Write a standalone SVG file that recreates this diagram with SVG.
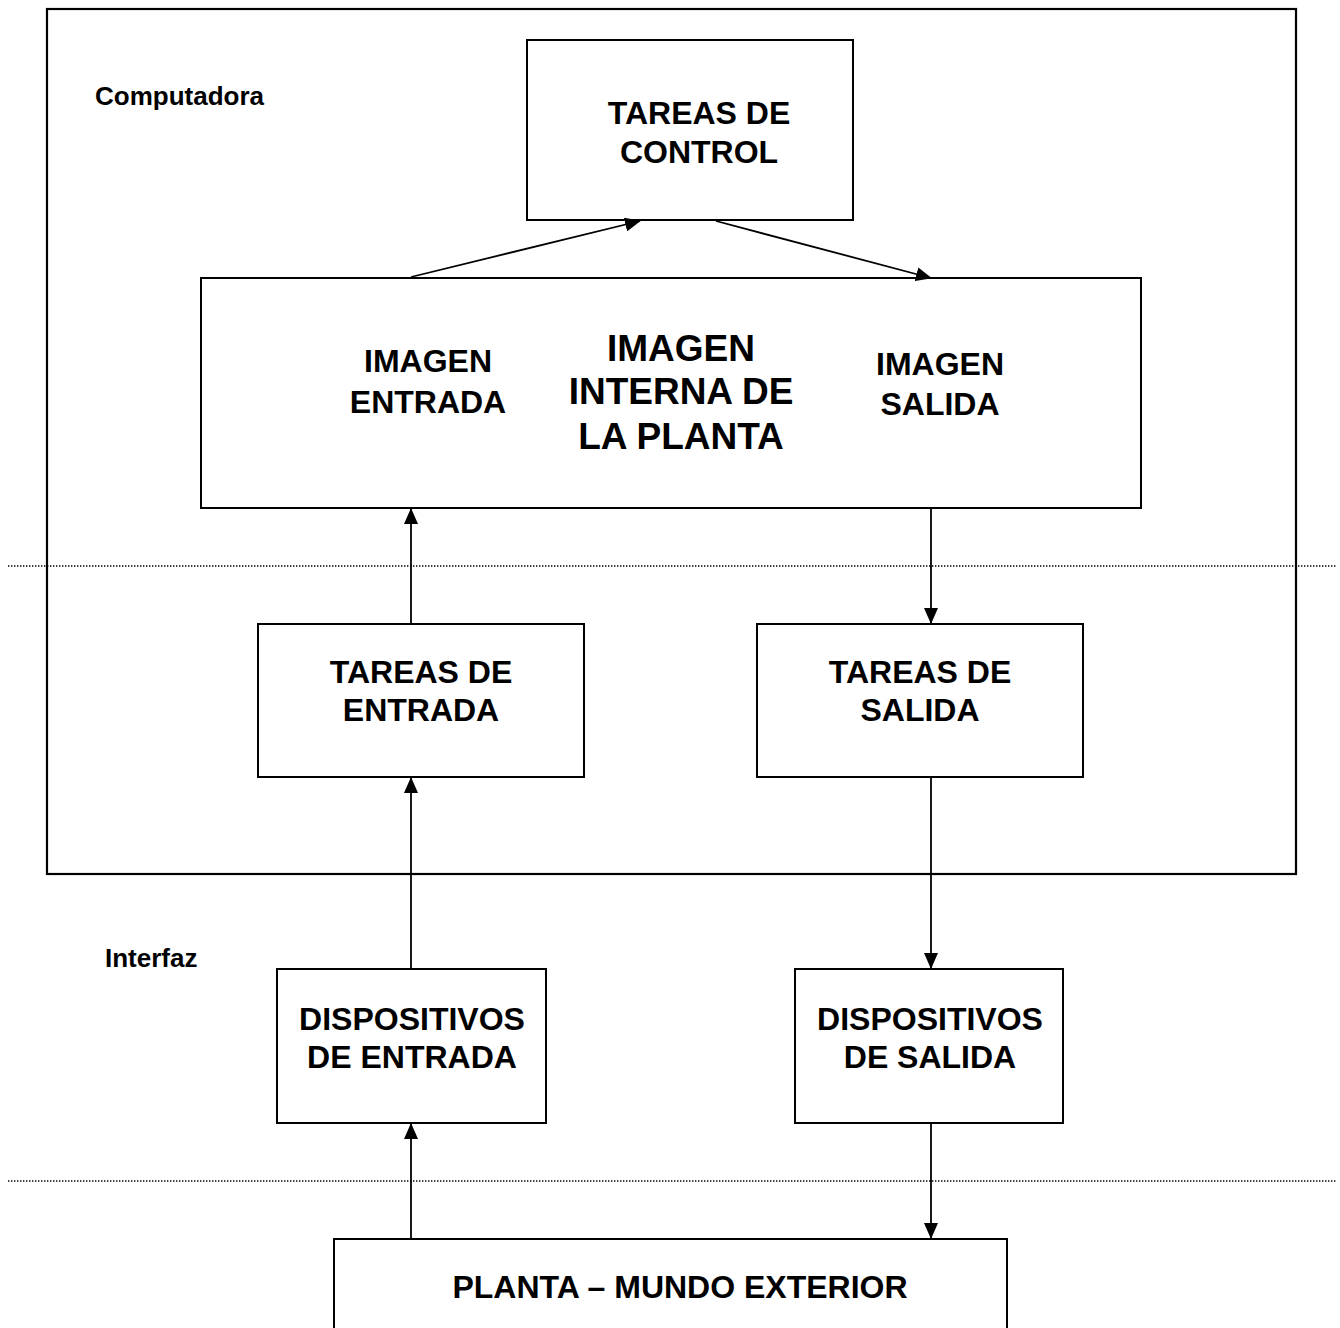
<svg xmlns="http://www.w3.org/2000/svg" width="1340" height="1328" viewBox="0 0 1340 1328">
<defs>
<marker id="ah" markerWidth="16" markerHeight="14" refX="15" refY="7" orient="auto" markerUnits="userSpaceOnUse">
<path d="M0,0 L16,7 L0,14 Z" fill="#000"/>
</marker>
<style>
.box{fill:#fff;stroke:#000;stroke-width:2}
.t{font-family:"Liberation Sans",Arial,sans-serif;font-weight:bold;font-size:32px;text-anchor:middle;fill:#000}
.big{font-size:37px}
.lbl{font-family:"Liberation Sans",Arial,sans-serif;font-weight:bold;font-size:26px;fill:#000}
.c{stroke:#000;stroke-width:1.8;fill:none;marker-end:url(#ah)}
.dot{stroke:#000;stroke-width:1.4;stroke-dasharray:1.4 1.6;fill:none}
</style>
</defs>
<rect width="1340" height="1328" fill="#fff"/>
<g id="computadora">
<rect x="47" y="9" width="1249" height="865" fill="none" stroke="#000" stroke-width="2.2"/>
<text class="lbl" x="95" y="105">Computadora</text>
</g>
<line class="dot" x1="8" y1="566" x2="1336" y2="566"/>
<line class="dot" x1="8" y1="1181" x2="1336" y2="1181"/>
<text class="lbl" x="105" y="967">Interfaz</text>
<g id="tareas-control">
<rect class="box" x="527" y="40" width="326" height="180"/>
<text class="t" x="699" y="124">TAREAS DE</text>
<text class="t" x="699" y="163">CONTROL</text>
</g>
<g id="imagen">
<rect class="box" x="201" y="278" width="940" height="230"/>
<text class="t" x="428" y="372">IMAGEN</text>
<text class="t" x="428" y="413">ENTRADA</text>
<text class="t big" x="681" y="361">IMAGEN</text>
<text class="t big" x="681" y="404">INTERNA DE</text>
<text class="t big" x="681" y="449">LA PLANTA</text>
<text class="t" x="940" y="375">IMAGEN</text>
<text class="t" x="940" y="415">SALIDA</text>
</g>
<g id="tareas-entrada">
<rect class="box" x="258" y="624" width="326" height="153"/>
<text class="t" x="421" y="683">TAREAS DE</text>
<text class="t" x="421" y="721">ENTRADA</text>
</g>
<g id="tareas-salida">
<rect class="box" x="757" y="624" width="326" height="153"/>
<text class="t" x="920" y="683">TAREAS DE</text>
<text class="t" x="920" y="721">SALIDA</text>
</g>
<g id="disp-entrada">
<rect class="box" x="277" y="969" width="269" height="154"/>
<text class="t" x="412" y="1030">DISPOSITIVOS</text>
<text class="t" x="412" y="1068">DE ENTRADA</text>
</g>
<g id="disp-salida">
<rect class="box" x="795" y="969" width="268" height="154"/>
<text class="t" x="930" y="1030">DISPOSITIVOS</text>
<text class="t" x="930" y="1068">DE SALIDA</text>
</g>
<g id="planta">
<rect class="box" x="334" y="1239" width="673" height="100"/>
<text class="t" x="680" y="1298">PLANTA – MUNDO EXTERIOR</text>
</g>
<g id="connectors">
<line class="c" x1="411" y1="277" x2="640" y2="221"/>
<line class="c" x1="716" y1="221" x2="931" y2="278"/>
<line class="c" x1="411" y1="623" x2="411" y2="509"/>
<line class="c" x1="931" y1="509" x2="931" y2="623"/>
<line class="c" x1="411" y1="968" x2="411" y2="778"/>
<line class="c" x1="931" y1="778" x2="931" y2="968"/>
<line class="c" x1="411" y1="1238" x2="411" y2="1124"/>
<line class="c" x1="931" y1="1124" x2="931" y2="1238"/>
</g>
</svg>
